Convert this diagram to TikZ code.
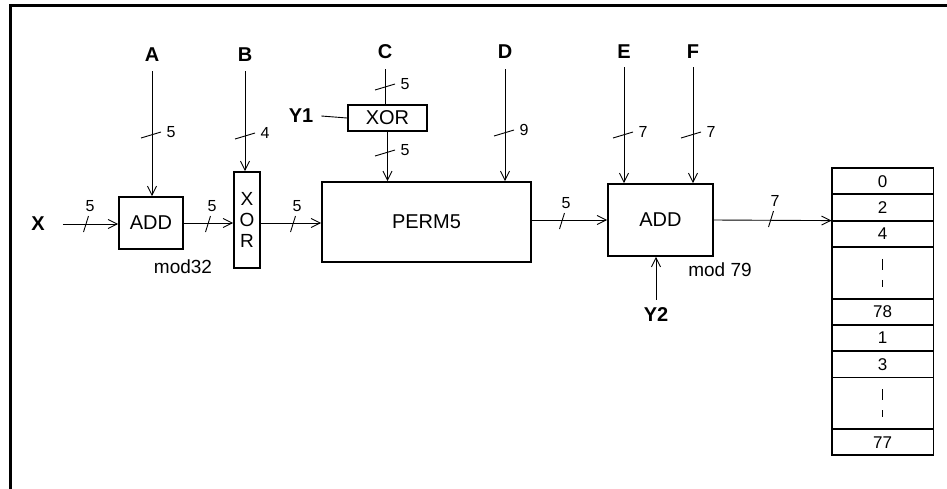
\documentclass[tikz,border=0pt]{standalone}
\usepackage{fontspec}
\setmainfont{Liberation Sans}
\usetikzlibrary{arrows.meta,calc}
\tikzset{
  box/.style={draw,line width=1.8pt,inner sep=0pt,font=\fontsize{20}{24}\selectfont},
  inp/.style={inner sep=0pt,font=\fontsize{20}{24}\selectfont\bfseries},
  wire/.style={line width=0.9pt},
  arr/.style={wire,-{Straight Barb[length=9pt,width=9pt,line width=0.9pt]}},
  wlab/.style={inner sep=0pt,font=\fontsize{16}{19}\selectfont},
  modlab/.style={inner sep=0pt,font=\fontsize{19}{22}\selectfont},
  slash/.style={line width=0.9pt},
  row/.style={draw,line width=0.9pt,minimum width=101pt,minimum height=25.4pt,inner sep=0pt,anchor=north,font=\fontsize{17}{20}\selectfont},
  dblrow/.style={row,minimum height=50.7pt}
}
\begin{document}
\begin{tikzpicture}[x=1pt,y=-1pt]
\useasboundingbox (0,0) rectangle (947,488);
% frame
\draw[line width=3pt] (10,492) -- (10,5) -- (950,5);

% input labels
\node[inp] (X) at (38,224) {X};
\node[inp] (A) at (152,55) {A};
\node[inp] (B) at (245,55) {B};
\node[inp] (C) at (385,52) {C};
\node[inp] (D) at (505,52) {D};
\node[inp] (E) at (624,52) {E};
\node[inp] (F) at (693,52) {F};
\node[inp] (Y1) at (301,116) {Y1};
\node[inp] (Y2) at (656,315) {Y2};

% boxes
\node[box,minimum width=64pt,minimum height=52pt] (add1) at (151,223) {ADD};
\node[modlab] (mod1) at (183,267) {mod32};
\node[box,minimum width=26pt,minimum height=96pt,align=center,font=\fontsize{19}{21}\selectfont] (xor1) at (247,220) {X\\O\\R};
\node[box,minimum width=209pt,minimum height=80pt] (perm) at (426.5,222) {PERM5};
\node[box,minimum width=79pt,minimum height=26pt] (xors) at (387.5,118) {XOR};
\node[box,minimum width=105pt,minimum height=72pt] (add2) at (660.5,220) {ADD};
\node[modlab] (mod2) at (720,270) {mod 79};

% table
\node[row] (r0) at (882.5,168) {0};
\node[row] (r1) at (r0.south) {2};
\node[row] (r2) at (r1.south) {4};
\node[dblrow] (r3) at (r2.south) {};
\node[row] (r4) at (r3.south) {78};
\node[row] (r5) at (r4.south) {1};
\node[row] (r6) at (r5.south) {3};
\node[dblrow] (r7) at (r6.south) {};
\node[row] (r8) at (r7.south) {77};
\draw[line width=1.8pt] (r0.north west) rectangle (r8.south east);
\foreach \r in {r3,r7}{
  \draw[line width=1.6pt] ([yshift=-12pt]\r.north) -- ([yshift=-23pt]\r.north);
  \draw[line width=1.6pt] ([yshift=-33pt]\r.north) -- ([yshift=-40pt]\r.north);
}

% horizontal connectors
\draw[arr] ([xshift=18pt]X.east) -- (add1.west |- X);
\draw[arr] (add1.east) -- (add1.east -| xor1.west);
\draw[arr] (add1.east -| xor1.east) -- (add1.east -| perm.west);
\draw[arr] (perm.east |- add2.west) -- (add2.west);
\draw[arr] (add2.east) -- (r1.south west);
\draw[wire] ([xshift=8pt]Y1.east) -- (xors.west);

% vertical connectors
\draw[arr] ([yshift=-9pt]A.south) -- (A.south |- add1.north);
\draw[arr] ([yshift=-9pt]B.south) -- (B.south |- xor1.north);
\draw[wire] ([yshift=-10pt]C.south) -- (C.south |- xors.north);
\draw[arr] (xors.south) -- (xors.south |- perm.north);
\draw[arr] ([yshift=-10pt]D.south) -- (D.south |- perm.north);
\draw[arr] ([yshift=-8pt]E.south) -- (E.south |- add2.north);
\draw[arr] ([yshift=-8pt]F.south) -- (F.south |- add2.north);
\draw[arr] ([yshift=8pt]Y2.north) -- (Y2.north |- add2.south);

% bus-width slashes on horizontal wires
\foreach \x/\y/\l in {86/224/5, 208/224/5, 293/224/5, 562/221/5, 771/219/7}{
  \draw[slash] (\x-2.5,\y+8) -- (\x+2.5,\y-8);
  \node[wlab] at (\x+4,\y-18) {\l};
}
% bus-width slashes on vertical wires
\foreach \x/\y/\l in {151/135/5, 245/136/4, 385/87/5, 385/153/5, 504/133/9, 623/135/7, 691/135/7}{
  \draw[slash] (\x-10,\y+3) -- (\x+10,\y-3);
  \node[wlab] at (\x+20,\y-3) {\l};
}
\end{tikzpicture}
\end{document}
